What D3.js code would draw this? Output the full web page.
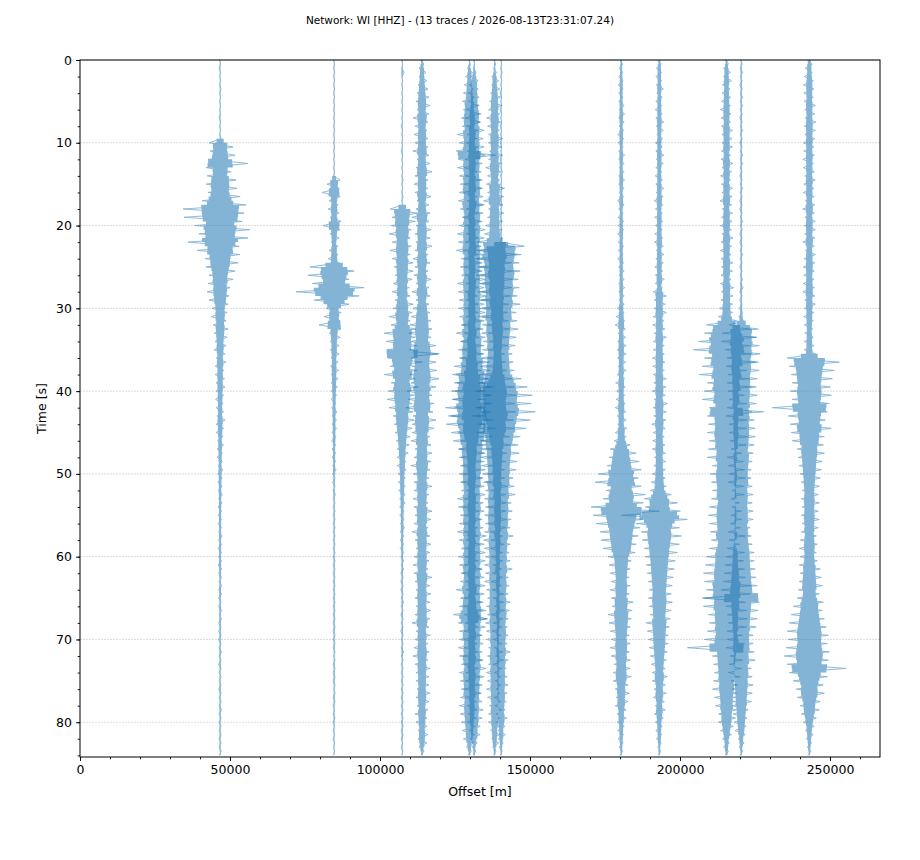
<!DOCTYPE html>
<html>
<head>
<meta charset="utf-8">
<script src="https://cdn.jsdelivr.net/npm/d3@7"></script>
<style>
  body { margin: 0; background: #fff; }
  text { font-family: "DejaVu Sans", sans-serif; fill: #000; }
</style>
</head>
<body>
<svg id="chart"></svg>
<script>
var titleText = "Network: WI [HHZ] - (13 traces / 2026-08-13T23:31:07.24)";

// station offsets along the section, metres
var offsets = [46700, 84700, 107400, 114000, 129800, 131400, 138200, 140400, 180400, 193100, 215500, 220400, 243100];

// sample interval of the traces, seconds
var dt = 0.5;

// peak amplitude per sample (arbitrary units), one list per trace, t = 0 .. 84 s
var tr1 = [
1,1,2,1,1,1,1,2,1,1, 1,1,1,1,2,1,1,1,1,2,
22,26,20,30,24,56,28,22,26,32, 28,34,24,40,36,52,74,48,72,44,
50,60,42,56,64,38,46,40,30,36, 28,30,22,26,24,20,26,18,22,16,
16,14,18,12,14,16,12,14,10,12, 12,10,8,12,10,8,10,9,8,10,
8,7,9,6,8,7,6,10,8,7, 8,6,5,7,6,5,6,5,4,6,
5,4,5,4,4,5,3,4,4,3, 4,3,4,3,3,4,3,3,4,3,
3,3,4,3,3,3,2,3,3,3, 3,2,3,3,2,3,3,2,3,2,
3,2,2,3,2,2,3,2,2,2, 2,2,3,2,2,2,2,3,2,2,
2,2,2,2,2,2,2,2,1];
var tr2 = [
1,1,1,1,1,1,1,1,1,1, 1,1,1,1,1,1,1,1,1,1,
1,1,1,1,1,1,1,1,1,12, 14,10,24,12,10,8,12,10,8,14,
22,12,8,10,6,8,10,8,12,10, 48,40,52,30,44,60,76,50,40,30,
16,14,20,12,30,14,10,12,8,10, 8,10,6,8,7,9,6,8,6,7,
6,5,6,4,5,6,4,5,4,5, 4,4,5,3,4,3,4,3,3,4,
3,2,3,2,2,3,2,2,2,2, 2,2,2,2,2,2,2,2,2,2,
2,2,2,2,2,2,2,2,2,2, 2,2,2,2,2,2,2,2,2,2,
2,2,2,2,1,2,2,2,2,2, 2,2,1,2,2,2,2,1,2,2,
2,1,2,1,2,1,1,1,1];
var tr3 = [
1,1,1,4,1,1,1,1,1,1, 1,1,1,1,1,1,2,1,1,1,
1,1,2,1,1,1,1,1,1,2, 1,1,1,2,1,1,24,30,20,26,
22,18,26,16,20,18,24,16,20,22, 16,22,14,20,18,14,20,16,14,22,
18,20,26,16,22,28,36,26,32,30, 30,74,28,40,24,30,36,26,22,32,
28,24,30,20,26,22,18,24,16,20, 14,16,12,14,10,12,10,8,10,8,
8,6,8,6,7,6,5,6,5,4, 5,4,4,5,4,3,4,3,4,3,
3,3,2,3,3,2,3,2,3,2, 2,3,2,2,3,2,2,2,3,2,
2,2,2,3,2,2,2,2,2,2, 2,2,2,2,2,2,2,2,2,2,
2,2,2,2,2,1,2,1,1];
var tr4 = [
2,4,6,8,6,10,8,12,10,14, 12,16,10,14,18,12,14,10,16,12,
14,12,18,14,10,16,12,20,14,12, 16,12,14,18,10,14,12,16,20,14,
12,18,14,16,12,20,14,12,18,16, 14,12,16,18,12,14,20,16,12,14,
18,16,22,18,24,20,26,18,22,28, 26,32,22,28,20,30,24,34,22,28,
30,20,28,24,32,22,18,28,20,24, 20,16,22,18,14,20,16,18,22,16,
18,14,16,20,16,14,18,12,16,20, 14,18,16,12,20,16,14,18,12,16,
16,14,18,12,16,20,14,16,12,18, 14,16,12,18,14,16,20,14,12,16,
14,12,16,14,18,12,14,16,12,14, 12,14,10,16,12,14,10,12,14,10,
12,10,8,12,8,10,6,4,2];
var tr5 = [
1,2,4,6,8,6,10,8,12,10, 14,18,12,20,16,22,14,18,24,16,
20,18,26,52,22,18,24,16,20,22, 18,24,20,16,22,26,18,20,14,22,
20,16,24,18,22,20,26,18,16,22, 18,22,16,20,24,18,22,16,20,18,
22,18,20,24,16,22,26,20,18,24, 22,26,20,28,30,24,34,38,30,42,
36,44,32,40,48,34,42,38,46,30, 36,28,32,26,22,28,20,24,18,22,
20,24,18,22,16,20,24,18,22,20, 18,22,20,16,24,18,20,22,16,20,
22,18,20,24,16,20,18,22,26,20, 18,24,20,26,32,36,22,18,20,24,
20,16,22,18,20,24,16,18,20,22, 18,20,16,22,18,14,20,16,18,14,
16,12,14,10,12,8,6,4,2];
var tr6 = [
1,1,2,4,6,8,10,8,12,10, 12,10,16,14,18,12,16,20,14,18,
16,20,14,22,18,16,20,14,18,16, 20,16,22,18,14,20,16,18,22,16,
18,22,16,20,18,14,22,18,20,16, 20,16,18,22,16,20,18,24,16,20,
18,22,16,20,24,18,20,22,26,20, 24,20,26,30,24,32,36,28,34,40,
38,32,44,36,40,34,46,38,32,42, 32,36,28,24,30,22,26,20,24,22,
22,18,24,20,16,22,20,18,24,20, 20,16,22,18,20,24,16,20,18,22,
18,22,20,16,24,20,18,22,16,20, 20,18,22,24,20,26,18,22,20,16,
22,18,20,16,22,18,20,24,16,20, 18,16,20,14,18,16,14,18,12,16,
14,12,10,12,8,6,4,3,2];
var tr7 = [
1,2,2,4,6,8,6,10,8,12, 10,14,12,10,16,12,14,10,12,16,
12,14,10,16,12,14,18,12,14,10, 16,20,14,18,22,16,12,18,14,16,
18,14,20,16,36,40,30,44,38,34, 32,38,28,36,30,34,26,32,30,28,
30,26,32,28,24,30,26,28,22,26, 24,20,26,22,28,24,30,36,32,40,
38,44,34,40,36,42,46,38,34,40, 36,30,28,32,26,24,28,22,26,20,
24,20,22,26,18,22,20,24,18,22, 20,24,18,22,20,16,22,18,20,16,
18,16,20,14,18,16,20,14,16,18, 14,18,16,20,14,16,18,14,16,12,
16,14,12,16,14,18,12,14,16,12, 14,12,16,10,14,12,10,14,12,10,
12,10,8,10,6,8,4,3,2];
var tr8 = [
1,1,1,2,1,1,1,1,2,1, 1,1,2,1,1,1,2,1,1,1,
2,1,1,1,2,1,1,2,1,1, 1,2,1,1,1,2,1,1,2,1,
1,1,2,1,1,46,50,40,48,36, 44,38,50,34,42,36,46,32,40,38,
36,30,38,32,28,34,26,30,24,28, 26,22,28,24,30,26,34,40,44,52,
48,62,44,60,50,68,46,58,42,50, 44,38,40,34,30,36,28,32,26,30,
28,24,30,26,22,28,24,20,26,22, 24,20,26,18,22,24,20,18,22,16,
20,18,16,22,18,14,20,16,18,14, 16,18,14,16,20,14,16,12,18,14,
16,12,14,18,12,14,16,10,14,12, 12,14,10,12,14,10,12,8,10,12,
10,8,6,8,6,4,4,2,2];
var tr9 = [
2,3,4,3,5,4,6,4,5,4, 5,6,4,7,5,6,4,5,7,5,
6,4,5,7,5,6,4,6,5,7, 5,6,4,5,7,6,5,4,6,5,
6,5,7,4,6,5,6,4,7,5, 5,6,4,6,5,7,5,6,4,6,
8,6,10,7,12,8,6,9,7,10, 8,10,7,9,6,10,8,7,11,8,
9,7,10,8,12,9,8,10,7,11, 12,10,14,18,22,30,24,36,28,40,
46,34,52,40,30,48,36,44,60,76, 56,44,50,38,42,34,40,30,36,28,
26,20,24,18,22,16,20,18,22,16, 20,24,18,22,26,20,24,18,22,16,
20,18,22,16,20,18,14,18,16,20, 16,14,12,16,10,14,12,10,8,10,
8,6,7,5,6,4,4,3,2];
var tr10 = [
3,4,6,5,7,5,6,8,5,6, 7,5,8,6,7,9,6,8,5,7,
8,6,7,9,6,8,7,5,8,6, 7,9,6,8,10,7,8,6,9,7,
8,6,9,7,10,8,6,9,7,8, 9,7,8,10,8,6,12,14,10,12,
10,14,12,9,13,11,10,14,12,10, 12,10,14,11,13,10,12,14,11,13,
14,12,10,16,12,14,11,13,15,12, 12,10,13,11,14,12,10,13,11,12,
14,12,16,14,18,24,30,36,28,42, 76,56,46,40,36,44,34,40,30,36,
28,32,26,30,24,28,22,26,20,24, 22,26,20,24,18,22,26,20,24,18,
22,18,20,16,18,14,16,12,14,16, 14,12,10,14,12,10,8,12,10,8,
8,6,7,5,6,4,3,3,2];
var tr11 = [
2,4,6,8,6,10,8,7,9,8, 10,8,12,9,11,8,10,12,9,11,
9,12,10,8,11,13,9,10,12,8, 10,12,9,11,13,10,8,12,10,11,
12,10,9,13,11,10,12,9,11,13, 10,12,11,9,12,14,10,13,11,12,
14,12,16,20,40,50,44,60,56,48, 66,52,44,58,48,40,54,46,38,50,
44,36,48,40,34,74,38,42,36,40, 38,44,34,40,36,30,38,34,28,36,
32,38,30,34,28,36,30,26,34,30, 36,30,34,28,32,38,30,26,34,36,
40,34,42,36,46,38,44,50,40,48, 44,38,46,40,36,42,34,40,38,32,
44,36,78,34,28,32,26,30,24,28, 26,22,28,20,24,18,22,20,16,18,
16,14,12,10,8,6,6,4,3];
var tr12 = [
1,2,2,3,2,2,3,2,2,3, 2,3,2,2,3,2,2,3,2,2,
3,2,2,3,2,3,2,2,3,2, 2,3,2,2,3,2,3,2,2,3,
2,2,3,2,3,2,2,3,2,2, 3,2,2,3,2,4,3,2,3,2,
4,3,5,6,24,34,38,30,40,36, 32,38,28,34,30,36,26,32,28,30,
26,32,24,30,28,22,30,26,24,28, 24,28,22,26,20,24,28,22,26,20,
24,20,26,22,18,24,20,22,18,24, 20,24,22,18,26,20,24,22,28,26,
30,26,32,28,34,30,36,32,40,34, 78,36,30,34,28,32,26,30,28,24,
28,24,30,26,22,28,24,20,26,22, 20,24,18,22,16,20,18,14,16,12,
14,10,12,8,6,6,4,3,2];
var tr13 = [
4,6,8,6,10,8,12,9,11,8, 10,12,9,11,8,13,10,12,9,11,
12,9,11,10,13,8,12,10,9,12, 11,9,12,10,8,11,13,10,9,12,
10,12,9,11,13,10,8,12,10,11, 12,10,11,9,12,10,13,11,9,12,
10,9,11,8,10,7,9,8,10,9, 10,12,44,60,40,50,36,46,34,42,
38,44,34,40,74,36,42,32,38,44, 36,30,34,28,24,30,22,26,20,24,
18,22,16,20,14,18,16,20,14,18, 16,20,14,18,16,14,18,16,20,14,
18,16,20,22,18,24,20,26,22,20, 24,28,32,26,36,30,40,34,44,38,
42,36,46,40,50,38,44,74,40,36, 32,28,26,30,24,22,18,20,16,14,
12,10,8,8,6,5,4,3,2];

var traces = [tr1, tr2, tr3, tr4, tr5, tr6, tr7, tr8, tr9, tr10, tr11, tr12, tr13];

var xTicks = [0, 50000, 100000, 150000, 200000, 250000];
var yTicks = [0, 10, 20, 30, 40, 50, 60, 70, 80];

var W = 920, H = 860;
var margin = {top: 60, right: 40, bottom: 103, left: 80};
var iw = W - margin.left - margin.right;
var ih = H - margin.top - margin.bottom;

// amplitude unit -> metres of offset on the section
var ampScale = 166.7;
// fraction of the swing drawn as the solid body of a wiggle
var coreFrac = 0.6;

var svg = d3.select('#chart')
    .attr('width', W)
    .attr('height', H);

var x = d3.scaleLinear().domain([0, 266667]).range([0, iw]);
var y = d3.scaleLinear().domain([0, 84.2]).range([0, ih]);

var g = svg.append('g')
    .attr('transform', 'translate(' + margin.left + ',' + margin.top + ')');

svg.append('defs').append('clipPath')
    .attr('id', 'plotclip')
    .append('rect')
    .attr('width', iw)
    .attr('height', ih);

// horizontal grid
g.selectAll('line.grid')
    .data(yTicks)
    .enter()
    .append('line')
    .attr('class', 'grid')
    .attr('x1', 0)
    .attr('x2', iw)
    .attr('y1', function(d){ return y(d) })
    .attr('y2', function(d){ return y(d) })
    .attr('stroke', '#b0b0b0')
    .attr('stroke-opacity', 0.45)
    .attr('stroke-width', 1)
    .attr('stroke-dasharray', '2,1');

function samples(d, k) {
    return d.map(function(a, i){
        return {off: offsets[k], amp: a, t: i * dt, side: i % 2 ? 1 : -1};
    });
}

// wiggle: samples swing alternately left and right of the station offset
var line = d3.line()
    .x(function(d){ return x(d.off + d.side * d.amp * ampScale) })
    .y(function(d){ return y(d.t) });

var body = d3.area()
    .x0(function(d){ return x(d.off - d.amp * ampScale * coreFrac) })
    .x1(function(d){ return x(d.off + d.amp * ampScale * coreFrac) })
    .y(function(d){ return y(d.t) })
    .curve(d3.curveStep);

var tg = g.append('g')
    .attr('clip-path', 'url(#plotclip)')
    .selectAll('g.trace')
    .data(traces)
    .enter()
    .append('g')
    .attr('class', 'trace')
    .attr('opacity', 0.55);

tg.append('path')
    .attr('d', function(d, k){ return body(samples(d, k)) })
    .attr('fill', '#1f77b4');

tg.append('path')
    .attr('d', function(d, k){ return line(samples(d, k)) })
    .attr('fill', 'none')
    .attr('stroke', '#1f77b4')
    .attr('stroke-width', 0.9);

// axes
var xAxis = d3.axisBottom(x).tickValues(xTicks).tickFormat(d3.format('d')).tickSizeInner(4).tickSizeOuter(0).tickPadding(4);
var xMinor = d3.axisBottom(x).tickValues(d3.range(0, 266667, 10000)).tickFormat('').tickSizeInner(2.3).tickSizeOuter(0);
var yAxis = d3.axisLeft(y).tickValues(yTicks).tickSizeInner(4).tickSizeOuter(0).tickPadding(4);
var yMinor = d3.axisLeft(y).tickValues(d3.range(0, 84.2, 2)).tickFormat('').tickSizeInner(2.3).tickSizeOuter(0);

g.append('g').attr('transform', 'translate(0,' + ih + ')').call(xMinor);
g.append('g').call(yMinor);
g.append('g').attr('transform', 'translate(0,' + ih + ')').call(xAxis);
g.append('g').call(yAxis);

g.selectAll('.domain').remove();
g.selectAll('.tick text').attr('font-size', 12.5).attr('font-family', '"DejaVu Sans", sans-serif').attr('fill', '#000');
g.selectAll('.tick line').attr('stroke', '#000').attr('stroke-width', 0.9);

// frame
g.append('rect')
    .attr('width', iw)
    .attr('height', ih)
    .attr('fill', 'none')
    .attr('stroke', '#000')
    .attr('stroke-width', 1);

svg.append('text')
    .attr('x', W / 2)
    .attr('y', 24)
    .attr('text-anchor', 'middle')
    .attr('font-size', 10.5)
    .text(titleText);

svg.append('text')
    .attr('x', margin.left + iw / 2)
    .attr('y', 796)
    .attr('text-anchor', 'middle')
    .attr('font-size', 12.5)
    .text('Offset [m]');

svg.append('text')
    .attr('transform', 'translate(46,' + (margin.top + ih / 2) + ') rotate(-90)')
    .attr('text-anchor', 'middle')
    .attr('font-size', 12.5)
    .text('Time [s]');
</script>
</body>
</html>
